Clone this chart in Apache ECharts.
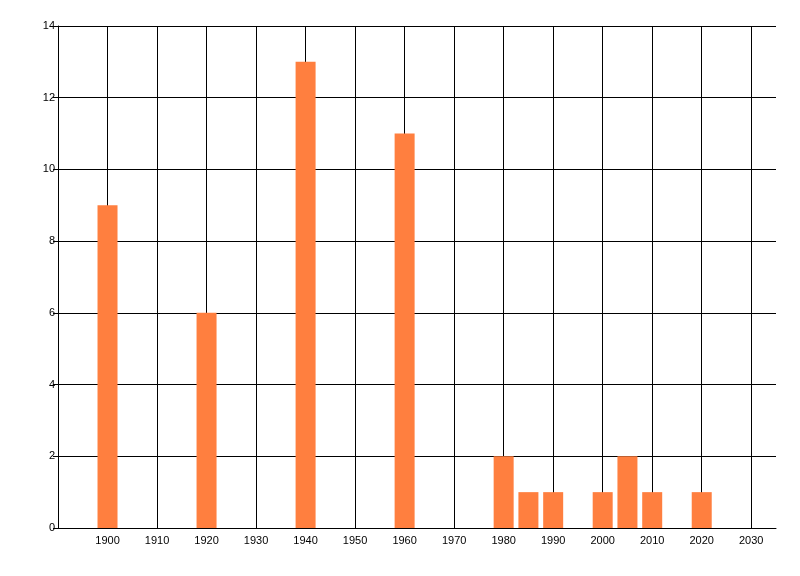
<!DOCTYPE html>
<html>
<head>
<meta charset="utf-8">
<script src="https://cdn.jsdelivr.net/npm/echarts@6/dist/echarts.min.js"></script>
<style>
  html, body { margin: 0; padding: 0; background: #fff; }
  #chart { width: 800px; height: 576px; }
</style>
</head>
<body>
<div id="chart"></div>
<script>
// years and counts
const years = [1900, 1920, 1940, 1960, 1980, 1985, 1990, 2000, 2005, 2010, 2020]
const counts = [9, 6, 13, 11, 2, 1, 1, 1, 2, 1, 1]
const yTicks = [0, 2, 4, 6, 8, 10, 12, 14]

const chart = echarts.init(document.getElementById('chart'))
const labelFont = {
  color: '#000',
  fontFamily: 'Liberation Sans, Arial, sans-serif',
  fontSize: 11
}

chart.setOption({
  animation: false,
  grid: { left: 58, right: 24, top: 26, bottom: 48 },
  xAxis: {
    type: 'value',
    min: 1890,
    max: 2035,
    interval: 10,
    axisLine: { show: true, onZero: false, lineStyle: { color: '#000', width: 1 } },
    axisTick: { show: false },
    axisLabel: Object.assign({
      margin: 7,
      showMinLabel: false,
      formatter: v => (v % 10 === 0 && v > 1890 ? String(v) : '')
    }, labelFont),
    splitLine: { show: true, showMaxLine: false, lineStyle: { color: '#000', width: 1 } }
  },
  yAxis: {
    type: 'value',
    min: yTicks[0],
    max: yTicks[yTicks.length - 1],
    interval: 2,
    axisLine: { show: true, lineStyle: { color: '#000', width: 1 } },
    axisTick: { show: true, length: 5, lineStyle: { color: '#000' } },
    axisLabel: Object.assign({ margin: 3 }, labelFont),
    splitLine: { show: true, lineStyle: { color: '#000', width: 1 } }
  },
  series: [{
    type: 'bar',
    barWidth: 20,
    itemStyle: { color: '#FF7F3F' },
    data: years.map((y, i) => [y, counts[i]])
  }]
})
</script>
</body>
</html>
